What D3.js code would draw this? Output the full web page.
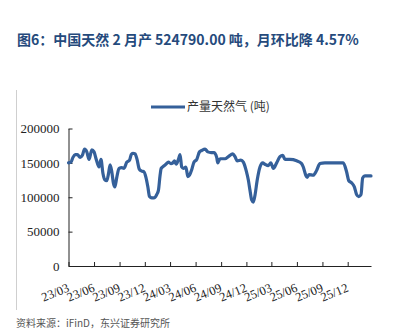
<!DOCTYPE html>
<html>
<head>
<meta charset="utf-8">
<script src="https://cdn.jsdelivr.net/npm/d3@7"></script>
<style>
  html, body { margin: 0; padding: 0; background: #fff; }
  svg { display: block; }
</style>
</head>
<body>
<svg id="chart" width="393" height="330"></svg>
<script>
// Weekly output of natural gas (tonnes)
const dates = [
  "2023-03-01","2023-03-10","2023-03-17","2023-03-25","2023-04-02","2023-04-12","2023-04-20","2023-04-28",
  "2023-05-06","2023-05-14","2023-05-24","2023-06-01","2023-06-09","2023-06-19","2023-06-26","2023-07-03",
  "2023-07-09","2023-07-17","2023-07-23","2023-07-29","2023-08-04","2023-08-10","2023-08-15","2023-08-22",
  "2023-08-30","2023-09-09","2023-09-17","2023-09-27","2023-10-07","2023-10-13","2023-10-19","2023-10-27",
  "2023-11-03","2023-11-11","2023-11-20","2023-11-28","2023-12-05","2023-12-12","2023-12-18","2023-12-26",
  "2024-01-03","2024-01-13","2024-01-19","2024-01-25","2024-01-29","2024-02-06","2024-02-15","2024-02-24",
  "2024-03-04","2024-03-11","2024-03-17","2024-03-23","2024-03-31","2024-04-06","2024-04-12","2024-04-18",
  "2024-04-27","2024-05-04","2024-05-10","2024-05-18","2024-05-26","2024-06-05","2024-06-15","2024-06-23",
  "2024-07-05","2024-07-15","2024-07-27","2024-08-06","2024-08-16","2024-08-20","2024-08-28","2024-09-15",
  "2024-09-27","2024-10-13","2024-10-21","2024-10-29","2024-11-11","2024-11-20","2024-11-30","2024-12-08",
  "2024-12-14","2024-12-20","2024-12-26","2025-01-01","2025-01-09","2025-01-19","2025-01-29","2025-02-06",
  "2025-02-18","2025-02-27","2025-03-08","2025-03-20","2025-04-01","2025-04-11","2025-04-19","2025-05-07",
  "2025-05-31","2025-06-18","2025-06-24","2025-07-03","2025-07-08","2025-07-15","2025-07-30","2025-08-11",
  "2025-08-23","2025-09-10","2025-09-28","2025-10-20","2025-11-15","2025-11-27","2025-12-05","2025-12-15",
  "2025-12-25","2026-01-02","2026-01-10","2026-01-18","2026-01-24","2026-02-01","2026-02-23"
];
const output = [
  150000,151000,158000,162000,162000,158000,161000,170000,
  166000,155000,169000,166000,155000,144000,155000,135000,
  126000,124000,134000,147000,137000,120000,115000,129000,
  142000,143000,142000,151000,154000,162000,164000,163000,
  155000,141000,138000,137000,129000,115000,101000,99000,
  99000,104000,110000,132000,142000,145000,148000,151000,
  149000,150000,153000,148000,155000,162000,144000,142000,
  144000,130000,132000,140000,151000,155000,166000,168000,
  170000,166000,165000,165000,158000,150000,156000,156000,
  159000,163000,159000,153000,154000,151000,139000,125000,
  110000,96000,93000,103000,125000,144000,150000,148000,
  146000,150000,142000,150000,159000,161000,155000,155000,
  153000,149000,144000,132000,129000,133000,132000,139000,
  149000,150000,150000,150000,150000,137000,124000,121000,
  115000,104000,101000,104000,128000,131000,131000
];
const tickDates = ["2023-03-01","2023-06-01","2023-09-01","2023-12-01","2024-03-01","2024-06-01",
  "2024-09-01","2024-12-01","2025-03-01","2025-06-01","2025-09-01","2025-12-01"];
const yTicks = [0, 50000, 100000, 150000, 200000];
const seriesName = "产量天然气 (吨)";
const titleText = "图6：中国天然 2 月产 524790.00 吨，月环比降 4.57%";
const sourceText = "资料来源：iFinD，东兴证券研究所";

const parse = d3.timeParse("%Y-%m-%d");
const data = dates.map((d, i) => ({ date: parse(d), value: output[i] }));

const svg = d3.select("#chart");
const plot = { left: 68.5, right: 371, top: 128.5, bottom: 266 };

const x = d3.scaleTime()
  .domain([parse("2023-03-01"), parse("2026-02-23")])
  .range([plot.left, plot.right]);
const y = d3.scaleLinear().domain([0, 200000]).range([plot.bottom, plot.top]);

// Title
svg.append("text")
  .attr("x", 17).attr("y", 45)
  .attr("font-family", "'Noto Sans CJK SC', 'Noto Sans', sans-serif")
  .attr("font-size", 14).attr("font-weight", "bold")
  .attr("fill", "#254a7c")
  .text(titleText);

// Thin grey rule on the left
svg.append("line")
  .attr("x1", 16.5).attr("x2", 16.5).attr("y1", 90).attr("y2", 310)
  .attr("stroke", "#cfcfcf").attr("stroke-width", 1);

// Y axis (ticks pointing inward)
const yAxis = d3.axisLeft(y).tickValues(yTicks).tickFormat(d3.format("d"))
  .tickSizeInner(-4).tickSizeOuter(0).tickPadding(9);
const gy = svg.append("g").attr("transform", `translate(${plot.left},0)`).call(yAxis);
gy.select(".domain").attr("stroke", "#222");
gy.selectAll(".tick line").attr("stroke", "#222");
gy.selectAll("text")
  .attr("font-family", "'Liberation Serif', 'Times New Roman', serif")
  .attr("font-size", 13).attr("fill", "#222");

// X axis (ticks pointing up into the plot)
const xAxis = d3.axisBottom(x)
  .tickValues(tickDates.map(parse))
  .tickFormat(d3.timeFormat("%y/%m"))
  .tickSizeInner(-4).tickSizeOuter(0);
const gx = svg.append("g").attr("transform", `translate(0,${plot.bottom})`).call(xAxis);
gx.select(".domain").attr("stroke", "#222");
gx.selectAll(".tick line").attr("stroke", "#222");
gx.selectAll("text")
  .attr("font-family", "'Liberation Serif', 'Times New Roman', serif")
  .attr("font-size", 12.5).attr("fill", "#222")
  .attr("text-anchor", "end")
  .attr("dy", null)
  .attr("y", 0)
  .attr("transform", "translate(1,25) rotate(-22)");

// Series line
const line = d3.line()
  .x(d => x(d.date))
  .y(d => y(d.value))
  .curve(d3.curveMonotoneX);
svg.append("path")
  .datum(data)
  .attr("d", line)
  .attr("fill", "none")
  .attr("stroke", "#35609a")
  .attr("stroke-width", 3.2)
  .attr("stroke-linejoin", "round")
  .attr("stroke-linecap", "round");

// Legend
svg.append("line")
  .attr("x1", 151).attr("x2", 185).attr("y1", 107).attr("y2", 107)
  .attr("stroke", "#35609a").attr("stroke-width", 3);
svg.append("text")
  .attr("x", 187).attr("y", 111)
  .attr("font-family", "'Noto Sans CJK SC', sans-serif")
  .attr("font-size", 12).attr("fill", "#333")
  .text(seriesName);

// Source note
svg.append("text")
  .attr("x", 16).attr("y", 327)
  .attr("font-family", "'Noto Sans CJK SC', sans-serif")
  .attr("font-size", 10).attr("fill", "#555")
  .text(sourceText);
</script>
</body>
</html>
